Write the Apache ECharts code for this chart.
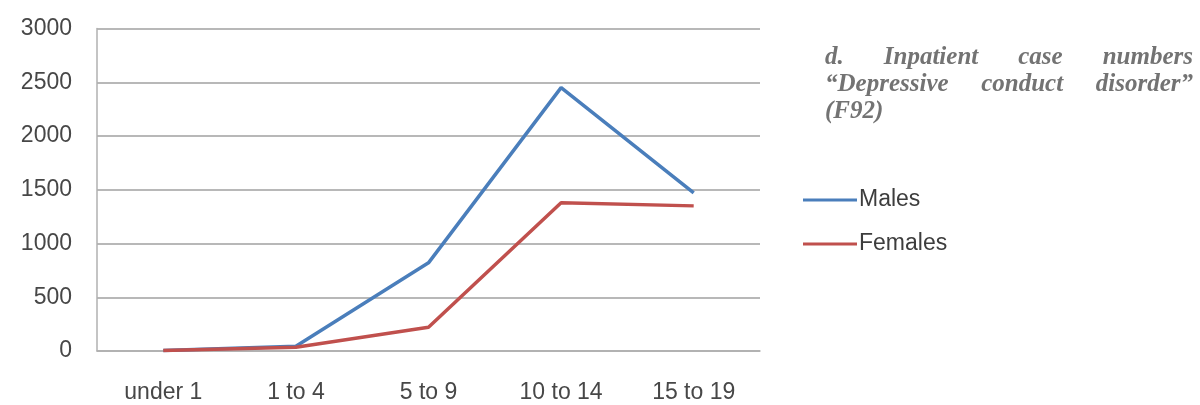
<!DOCTYPE html>
<html>
<head>
<meta charset="utf-8">
<script src="https://cdn.jsdelivr.net/npm/echarts@6/dist/echarts.min.js"></script>
<style>
  html, body { margin: 0; padding: 0; background: #fff; }
  #chart { width: 1200px; height: 405px; }
</style>
</head>
<body>
<div id="chart"></div>
<script>
// Age groups on the category axis
const ageGroups = ['under 1', '1 to 4', '5 to 9', '10 to 14', '15 to 19'];
// Inpatient case numbers per age group
const males = [5, 45, 820, 2450, 1470];
const females = [5, 35, 220, 1380, 1350];
// Value axis range
const yMin = 0;
const yMax = 3000;
const yStep = 500;
// Caption lines (each line justified between the same edges, last line left-aligned)
const captionLines = [
  ['d.', 'Inpatient', 'case', 'numbers'],
  ['\u201CDepressive', 'conduct', 'disorder\u201D'],
  ['(F92)']
];

const captionFont = 'italic bold 25px "Liberation Serif", "Times New Roman", serif';
const captionLeft = 825, captionRight = 1193, captionTop = 58, captionLineGap = 27;

const measure = document.createElement('canvas').getContext('2d');
measure.font = captionFont;

const captionElements = [];
captionLines.forEach((words, li) => {
  const y = captionTop + li * captionLineGap;
  const widths = words.map(w => measure.measureText(w).width);
  const last = li === captionLines.length - 1;
  const total = widths.reduce((a, b) => a + b, 0);
  const gap = (!last && words.length > 1)
    ? (captionRight - captionLeft - total) / (words.length - 1)
    : measure.measureText(' ').width;
  let x = captionLeft;
  words.forEach((w, wi) => {
    captionElements.push({
      type: 'text',
      x: x,
      y: y,
      style: {
        text: w,
        font: captionFont,
        fill: '#737373',
        textAlign: 'left',
        textVerticalAlign: 'middle'
      }
    });
    x += widths[wi] + gap;
  });
});

const chart = echarts.init(document.getElementById('chart'), null, { renderer: 'canvas' });

const labelFont = { fontFamily: '"Liberation Sans", Arial, sans-serif', fontSize: 23, color: '#474747' };

chart.setOption({
  animation: false,
  backgroundColor: '#ffffff',
  grid: {
    left: 97,
    right: 440,
    top: 28.5,
    bottom: 54,
    containLabel: false,
    outerBoundsMode: 'none'
  },
  legend: {
    orient: 'vertical',
    left: 798,
    top: 183,
    icon: 'rect',
    itemWidth: 54,
    itemHeight: 3,
    itemGap: 20,
    textStyle: Object.assign({}, labelFont, { color: '#3d3d3d', lineHeight: 24, padding: [0, 0, 0, -3] }),
    data: ['Males', 'Females']
  },
  xAxis: {
    type: 'category',
    data: ageGroups,
    boundaryGap: true,
    axisLine: { show: true, lineStyle: { color: '#b0b0b0', width: 1.5 } },
    axisTick: { show: false },
    axisLabel: Object.assign({}, labelFont, { margin: 30 }),
    splitLine: { show: false }
  },
  yAxis: {
    type: 'value',
    min: yMin,
    max: yMax,
    interval: yStep,
    axisLine: { show: true, lineStyle: { color: '#b0b0b0', width: 1.5 } },
    axisTick: { show: false },
    axisLabel: Object.assign({}, labelFont, { margin: 25, formatter: v => String(v) }),
    splitLine: { show: true, lineStyle: { color: '#b8b8b8', width: 1.8 } }
  },
  series: [
    {
      name: 'Males',
      type: 'line',
      data: males,
      symbol: 'none',
      color: '#4a7ebb',
      lineStyle: { color: '#4a7ebb', width: 3.5 },
      z: 3
    },
    {
      name: 'Females',
      type: 'line',
      data: females,
      symbol: 'none',
      color: '#c0504d',
      lineStyle: { color: '#c0504d', width: 3.5 },
      z: 4
    }
  ],
  graphic: captionElements
});
</script>
</body>
</html>
